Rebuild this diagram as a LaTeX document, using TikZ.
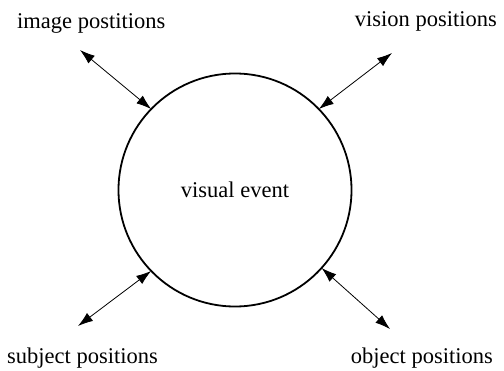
\documentclass[tikz,border=0pt]{standalone}
\usepackage{fontspec}
\setmainfont{Liberation Serif}
\usetikzlibrary{arrows.meta}
\begin{document}
\begin{tikzpicture}[x=1pt,y=-1pt,
  lbl/.style={inner sep=0pt,font=\fontsize{22.5}{27}\selectfont},
  evt/.style={circle,draw,line width=1.8pt,minimum size=233pt,inner sep=0pt,outer sep=0pt,font=\fontsize{22.5}{27}\selectfont},
  link/.style={line width=0.8pt,{Latex[length=15pt,width=10pt]}-{Latex[length=15pt,width=10pt]}}]
\useasboundingbox (0,0) rectangle (504,370);
\node[evt] (ev) at (235,190) {visual event};
\node[lbl,anchor=base west] (img) at (17,28) {image postitions};
\node[lbl,anchor=base east] (vis) at (497,26) {vision positions};
\node[lbl,anchor=base west] (sub) at (7,363) {subject positions};
\node[lbl,anchor=base east] (obj) at (493,363) {object positions};
\coordinate (a1) at (80,50);
\coordinate (a2) at (392,53);
\coordinate (a3) at (78,326);
\coordinate (a4) at (390,329);
\draw[link] (a1) -- (ev.136);
\draw[link] (a2) -- (ev.44);
\draw[link] (a3) -- (ev.224);
\draw[link] (a4) -- (ev.318);
\end{tikzpicture}
\end{document}
